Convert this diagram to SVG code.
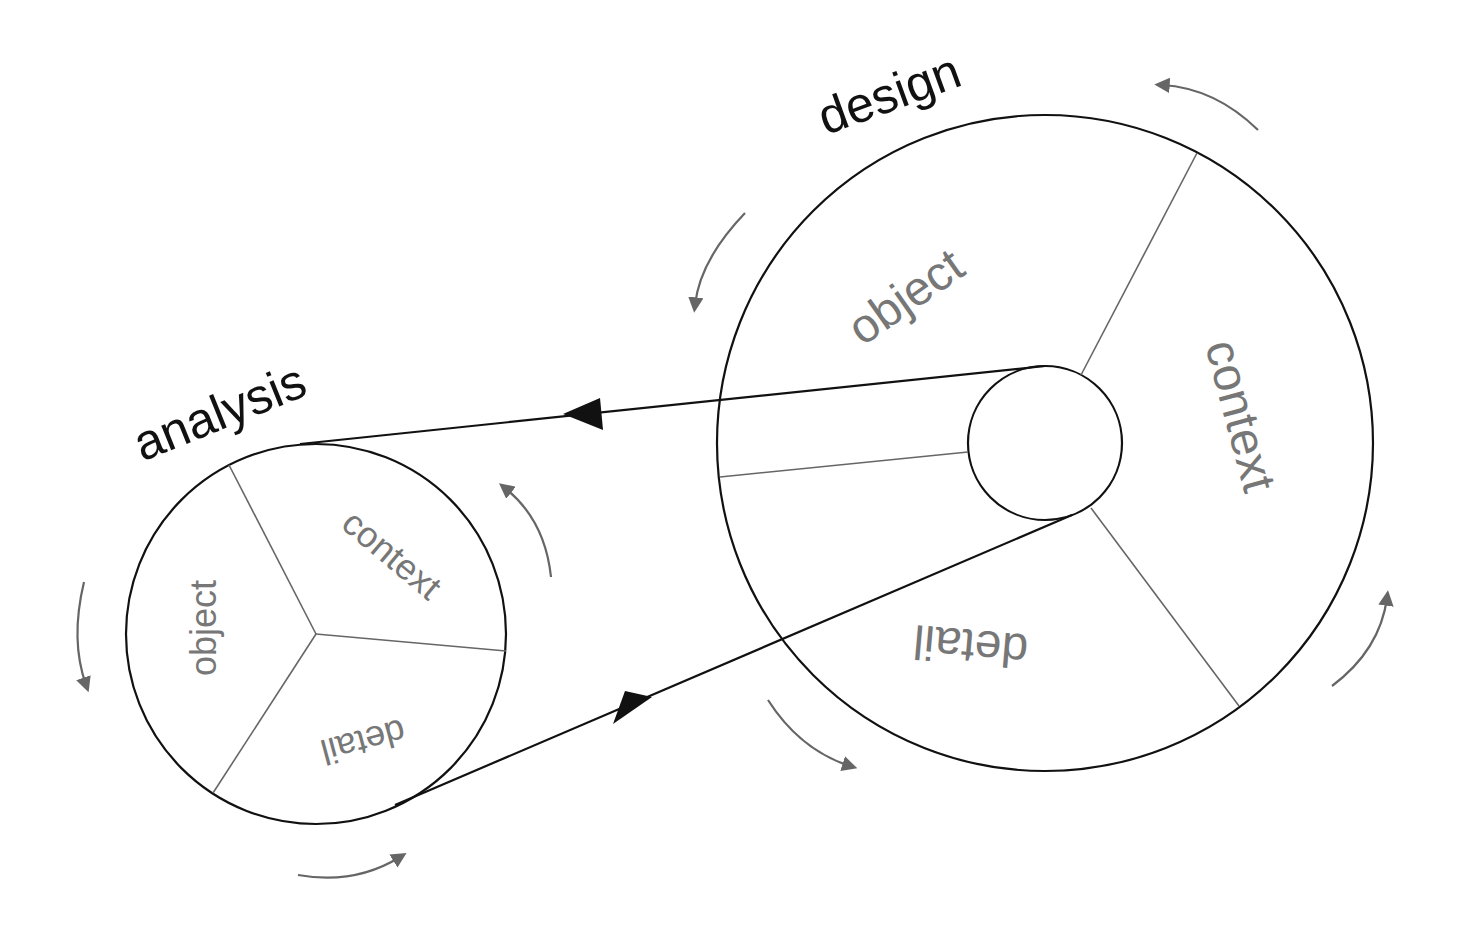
<svg xmlns="http://www.w3.org/2000/svg" width="1458" height="934" viewBox="0 0 1458 934">
<style>
.c{fill:none;stroke:#111;stroke-width:2.2}
.d{stroke:#666;stroke-width:1.6}
.b{stroke:#111;stroke-width:2.2;fill:none}
.g{fill:none;stroke:#666;stroke-width:2.2;marker-end:url(#ga)}
.t{font-family:"Liberation Sans",Arial,sans-serif;fill:#111;font-size:50px}
.s{font-family:"Liberation Sans",Arial,sans-serif;fill:#777;font-size:36px}
.L{font-size:48px}
</style>
<defs>
<marker id="ga" viewBox="0 0 10 10" refX="5" refY="5" markerWidth="7" markerHeight="7" orient="auto"><path d="M0,0L10,5L0,10z" fill="#666"/></marker>
</defs>
<rect width="1458" height="934" fill="#fff"/>
<g id="analysis">
<circle class="c" cx="316" cy="634" r="190"/>
<line class="d" x1="316" y1="634" x2="229" y2="465"/>
<line class="d" x1="316" y1="634" x2="506" y2="651"/>
<line class="d" x1="316" y1="634" x2="213" y2="793"/>
<text class="t" transform="translate(226,428) rotate(-22)" text-anchor="middle">analysis</text>
<text class="s" transform="translate(216,628) rotate(-90)" text-anchor="middle">object</text>
<text class="s" transform="translate(384,564) rotate(40)" text-anchor="middle">context</text>
<text class="s" transform="translate(360,730) rotate(165)" text-anchor="middle">detail</text>
</g>
<g id="design">
<circle class="c" cx="1045" cy="443" r="328"/>
<circle class="c" cx="1045" cy="443" r="77"/>
<line class="d" x1="1081" y1="375" x2="1197" y2="153"/>
<line class="d" x1="968" y1="452" x2="720" y2="477"/>
<line class="d" x1="1091" y1="508" x2="1239" y2="706"/>
<text class="t" transform="translate(895,110) rotate(-20)" text-anchor="middle">design</text>
<text class="s L" transform="translate(915,310) rotate(-35)" text-anchor="middle">object</text>
<text class="s L" transform="translate(1225,420) rotate(75)" text-anchor="middle">context</text>
<text class="s L" transform="translate(972,630) rotate(185)" text-anchor="middle">detail</text>
</g>
<g id="connectors">
<line class="b" x1="300" y1="444" x2="1045" y2="366"/>
<line class="b" x1="395" y1="805" x2="1072" y2="515"/>
<path d="M563,414L600,398L603,430z" fill="#111"/>
<path d="M652,697L613,724L625,691z" fill="#111"/>
<path class="g" d="M1258,130Q1215,88 1162,85"/>
<path class="g" d="M745,213Q700,260 695,305"/>
<path class="g" d="M551,577Q545,520 505,488"/>
<path class="g" d="M84,582Q70,640 86,685"/>
<path class="g" d="M298,875Q355,885 400,857"/>
<path class="g" d="M768,700Q800,750 850,766"/>
<path class="g" d="M1332,686Q1380,650 1387,598"/>
</g>
</svg>
